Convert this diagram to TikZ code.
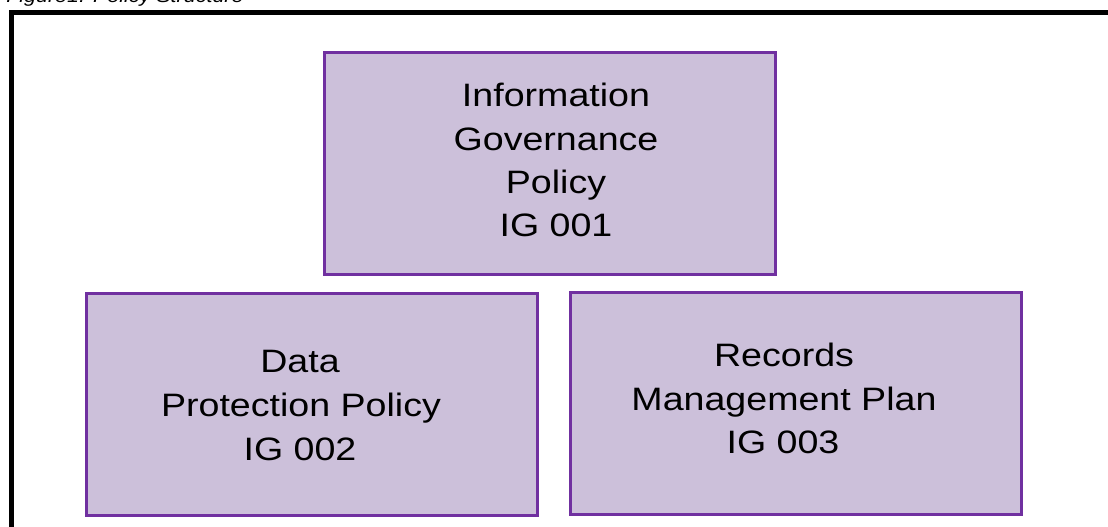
\documentclass[tikz,border=0pt]{standalone}
\usepackage{fontspec}
\setmainfont{Liberation Sans}
\definecolor{boxfill}{HTML}{CCC0DA}
\definecolor{boxline}{HTML}{7030A0}
\newcommand\wide[1]{\scalebox{1.16}[1]{#1}}
\tikzset{
  pbox/.style={draw=boxline, fill=boxfill, line width=2.25pt},
  lbl/.style={anchor=base, inner sep=0pt, font=\fontsize{24.3}{29}\selectfont},
  captext/.style={anchor=base west, inner sep=0pt, font=\fontsize{13.9}{16}\selectfont\itshape},
}
\begin{document}
\begin{tikzpicture}[x=0.75pt,y=-0.75pt]
\useasboundingbox (0,0) rectangle (1108,527);
\clip (0,0) rectangle (1108,527);
\fill[white] (0,0) rectangle (1108,527);
% caption
\node[captext] (caption) at (6,2.5) {\wide{Figure1: Policy Structure}};
% outer frame
\draw[line width=3.75pt, black] (11,12.5) rectangle (1130,560);
% boxes
\draw[pbox] (324,53) rectangle (775,275);
\draw[pbox] (86.5,293.5) rectangle (537,516);
\draw[pbox] (570,292.5) rectangle (1021,515);
% top text
\node[lbl] (ig1a) at (556,107) {\wide{Information}};
\node[lbl] (ig1b) at (556,150.5) {\wide{Governance}};
\node[lbl] (ig1c) at (556,194) {\wide{Policy}};
\node[lbl] (ig1d) at (556,237) {\wide{IG 001}};
% left text
\node[lbl] (ig2a) at (300,373) {\wide{Data}};
\node[lbl] (ig2b) at (301,417) {\wide{Protection Policy}};
\node[lbl] (ig2c) at (300,460) {\wide{IG 002}};
% right text
\node[lbl] (ig3a) at (784,367) {\wide{Records}};
\node[lbl] (ig3b) at (784,411) {\wide{Management Plan}};
\node[lbl] (ig3c) at (783,454) {\wide{IG 003}};
\end{tikzpicture}
\end{document}
